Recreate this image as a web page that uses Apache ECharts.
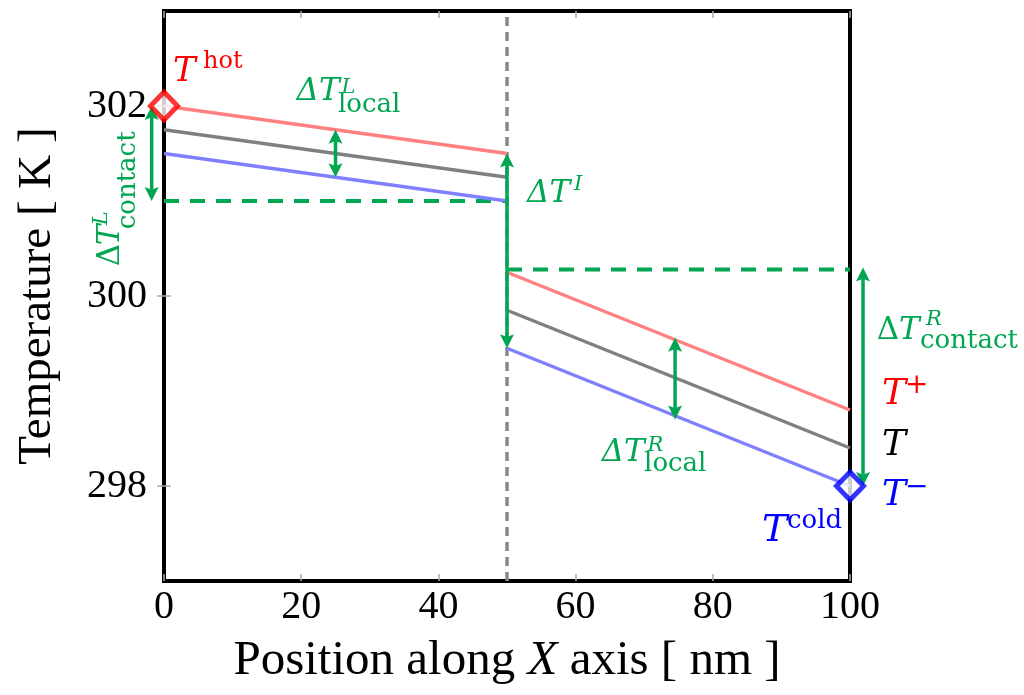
<!DOCTYPE html>
<html>
<head>
<meta charset="utf-8">
<script src="https://cdn.jsdelivr.net/npm/echarts@6/dist/echarts.min.js"></script>
<style>
  html, body { margin: 0; padding: 0; background: #fff; }
  #chart { width: 1024px; height: 695px; }
</style>
</head>
<body>
<div id="chart"></div>
<script>
// positions along X (nm)
const xLeft = [0, 50];
const xRight = [50, 100];
// temperature profiles (K) left / right of the interface
const tPlusLeft = [302.0, 301.5];
const tMeanLeft = [301.75, 301.25];
const tMinusLeft = [301.5, 301.0];
const tPlusRight = [300.25, 298.8];
const tMeanRight = [299.85, 298.4];
const tMinusRight = [299.45, 298.0];
// reservoir temperatures
const hotPoint = [0, 302];
const coldPoint = [100, 298];
// extrapolated contact levels (green dashed)
const contactLeft = 301.0;
const contactRight = 300.28;
const interfaceX = 50;
// jump arrows: [x, from, to]
const jumpArrows = [
    [-1.8, 302.0, 301.0],   // contact L
    [25, 301.75, 301.25],   // local L
    [50, 301.5, 299.45],    // interface
    [74.5, 299.56, 298.7],  // local R
    [101.9, 300.3, 298.0]   // contact R
];
const yTicks = [298, 300, 302];

const GREEN = '#00A651';
const SERIF = 'DejaVu Serif';

// annotation labels, anchored to data points, parts offset in pixels (b = baseline)
const labels = [
    { at: hotPoint, dx: 0, dy: 0, parts: [
        { t: 'T', x: 9, b: -22, s: 34, i: true, c: '#ff0000' },
        { t: 'hot', x: 39, b: -36, s: 24, c: '#ff0000' }] },
    { at: coldPoint, dx: 0, dy: 0, parts: [
        { t: 'T', x: -88, b: 58, s: 38, i: true, c: '#0000ff' },
        { t: 'cold', x: -63, b: 44, s: 26, c: '#0000ff' }] },
    { at: [jumpArrows[1][0], jumpArrows[1][1]], dx: 0, dy: 0, parts: [
        { t: 'ΔT', x: -39, b: -27, s: 31, i: true, c: GREEN },
        { t: 'L', x: 6, b: -34.7, s: 21, i: true, c: GREEN },
        { t: 'local', x: 2.5, b: -15.7, s: 26, c: GREEN }] },
    { at: [jumpArrows[2][0], jumpArrows[2][1]], dx: 0, dy: 0, parts: [
        { t: 'ΔT', x: 20, b: 51, s: 31, i: true, c: GREEN },
        { t: 'I', x: 67, b: 38, s: 21, i: true, c: GREEN }] },
    { at: [jumpArrows[3][0], jumpArrows[3][2]], dx: 0, dy: 0, parts: [
        { t: 'ΔT', x: -73.4, b: 44, s: 31, i: true, c: GREEN },
        { t: 'R', x: -27.5, b: 33, s: 21, i: true, c: GREEN },
        { t: 'local', x: -31, b: 54, s: 26, c: GREEN }] },
    { at: [jumpArrows[4][0], jumpArrows[4][1]], dx: 0, dy: 0, parts: [
        { t: 'Δ', x: 13.7, b: 74, s: 31, c: GREEN },
        { t: 'T', x: 36, b: 74, s: 31, i: true, c: GREEN },
        { t: 'R', x: 63, b: 59, s: 21, i: true, c: GREEN },
        { t: 'contact', x: 57, b: 83, s: 26, c: GREEN }] },
    { at: [jumpArrows[0][0], jumpArrows[0][2]], dx: -29.7, dy: 65.3, rot: Math.PI / 2, parts: [
        { t: 'Δ', x: 0, b: 0, s: 31, c: GREEN },
        { t: 'T', x: 21, b: 0, s: 31, i: true, c: GREEN },
        { t: 'L', x: 41, b: -13, s: 21, i: true, c: GREEN },
        { t: 'contact', x: 37, b: 15, s: 26, c: GREEN }] },
    { at: [xRight[1], tPlusRight[1]], dx: 0, dy: 0, parts: [
        { t: 'T', x: 32, b: -3, s: 36, i: true, c: '#ff0000' },
        { t: '+', x: 55, b: -14, s: 28, c: '#ff0000' }] },
    { at: [xRight[1], tMeanRight[1]], dx: 0, dy: 0, parts: [
        { t: 'T', x: 32, b: 10.6, s: 36, i: true, c: '#000' }] },
    { at: [xRight[1], tMinusRight[1]], dx: 0, dy: 0, parts: [
        { t: 'T', x: 32, b: 22.7, s: 36, i: true, c: '#0000ff' },
        { t: '−', x: 55, b: 12, s: 28, c: '#0000ff' }] }
];

function pairs(xs, ys) {
    return xs.map((x, i) => [x, ys[i]]);
}

function profile(name, xs, ys, color) {
    return {
        type: 'line', name: name, data: pairs(xs, ys),
        showSymbol: false, z: 3,
        lineStyle: { color: color, width: 3.5 }
    };
}

function dashed(data, color, width, dash, z) {
    return {
        type: 'line', data: data, showSymbol: false, z: z,
        lineStyle: { color: color, width: width, type: dash }
    };
}

function renderArrow(params, api) {
    const x = api.value(0);
    const a = api.coord([x, api.value(1)]);
    const b = api.coord([x, api.value(2)]);
    const dir = b[1] > a[1] ? 1 : -1;
    const len = 14, half = 7;
    return {
        type: 'group',
        children: [
            { type: 'line', shape: { x1: a[0], y1: a[1] + dir * len * 0.8, x2: b[0], y2: b[1] - dir * len * 0.8 },
              style: { stroke: GREEN, lineWidth: 3.5 } },
            { type: 'polygon', shape: { points: [[a[0], a[1]], [a[0] - half, a[1] + dir * len], [a[0], a[1] + dir * len * 0.8], [a[0] + half, a[1] + dir * len]] },
              style: { fill: GREEN } },
            { type: 'polygon', shape: { points: [[b[0], b[1]], [b[0] - half, b[1] - dir * len], [b[0], b[1] - dir * len * 0.8], [b[0] + half, b[1] - dir * len]] },
              style: { fill: GREEN } }
        ]
    };
}

function renderLabel(params, api) {
    const def = labels[api.value(2)];
    const p = api.coord([api.value(0), api.value(1)]);
    return {
        type: 'group',
        x: p[0] + def.dx,
        y: p[1] + def.dy,
        rotation: def.rot || 0,
        children: def.parts.map(part => ({
            type: 'text',
            x: part.x,
            y: part.b - 0.35 * part.s,
            style: {
                text: part.t,
                fill: part.c,
                fontSize: part.s,
                fontFamily: SERIF,
                fontStyle: part.i ? 'italic' : 'normal',
                align: 'left',
                verticalAlign: 'middle'
            }
        }))
    };
}

const labelFont = { color: '#000', fontFamily: 'Liberation Serif', fontSize: 40 };

function ticks(extra) {
    return Object.assign({
        show: true, inside: true, length: 7,
        lineStyle: { color: '#aaa', width: 1.5 }
    }, extra || {});
}

const chart = echarts.init(document.getElementById('chart'));
chart.setOption({
    animation: false,
    backgroundColor: '#fff',
    grid: {
        left: 164, right: 174, top: 11, bottom: 114,
        show: true, borderColor: '#000', borderWidth: 4,
        containLabel: false, outerBoundsMode: 'none'
    },
    xAxis: [{
        type: 'value', min: 0, max: 100, interval: 20,
        axisLine: { show: false }, axisTick: ticks(), splitLine: { show: false },
        axisLabel: Object.assign({ margin: 6 }, labelFont),
        name: 'Position along {i|X} axis [ nm ]',
        nameLocation: 'middle', nameGap: 56, nameMoveOverlap: false,
        nameTextStyle: {
            color: '#000', fontFamily: 'Liberation Serif', fontSize: 49,
            rich: { i: { fontFamily: 'Liberation Serif', fontStyle: 'italic', fontSize: 49, color: '#000' } }
        }
    }, {
        type: 'value', min: 0, max: 100, interval: 20, position: 'top',
        axisLine: { show: false }, axisTick: ticks(), splitLine: { show: false },
        axisLabel: { show: false }
    }],
    yAxis: [{
        type: 'value', min: 297, max: 303,
        axisLine: { show: false }, splitLine: { show: false },
        axisTick: ticks({ customValues: yTicks }),
        axisLabel: Object.assign({ margin: 17, customValues: yTicks }, labelFont),
        name: 'Temperature [ K ]',
        nameLocation: 'middle', nameGap: 103, nameMoveOverlap: false,
        nameTextStyle: { color: '#000', fontFamily: 'Liberation Serif', fontSize: 47 }
    }, {
        type: 'value', min: 297, max: 303, position: 'right',
        axisLine: { show: false }, splitLine: { show: false },
        axisTick: ticks({ customValues: yTicks }),
        axisLabel: { show: false }
    }],
    series: [
        dashed([[interfaceX, 297], [interfaceX, 303]], '#888', 3.5, [9, 6], 1),
        dashed([[xLeft[0], contactLeft], [xLeft[1], contactLeft]], GREEN, 4, [15, 11], 2),
        dashed([[xRight[0], contactRight], [xRight[1], contactRight]], GREEN, 4, [15, 11], 2),
        profile('T+ left', xLeft, tPlusLeft, '#ff8080'),
        profile('T left', xLeft, tMeanLeft, '#808080'),
        profile('T- left', xLeft, tMinusLeft, '#8080ff'),
        profile('T+ right', xRight, tPlusRight, '#ff8080'),
        profile('T right', xRight, tMeanRight, '#808080'),
        profile('T- right', xRight, tMinusRight, '#8080ff'),
        {
            type: 'custom', name: 'arrows', renderItem: renderArrow, clip: false, z: 5,
            data: jumpArrows, encode: { x: 0, y: [1, 2] }
        },
        {
            type: 'scatter', name: 'hot', data: [hotPoint], clip: false, z: 6,
            symbol: 'diamond', symbolSize: [27, 28],
            itemStyle: { color: '#fff', borderColor: '#ff0000', borderWidth: 5 }
        },
        {
            type: 'scatter', name: 'cold', data: [coldPoint], clip: false, z: 6,
            symbol: 'diamond', symbolSize: [27, 28],
            itemStyle: { color: '#fff', borderColor: '#0000ff', borderWidth: 5 }
        },
        {
            type: 'custom', name: 'labels', renderItem: renderLabel, clip: false, z: 7,
            data: labels.map((d, i) => [d.at[0], d.at[1], i]), encode: { x: 0, y: 1 }
        }
    ]
});
</script>
</body>
</html>
